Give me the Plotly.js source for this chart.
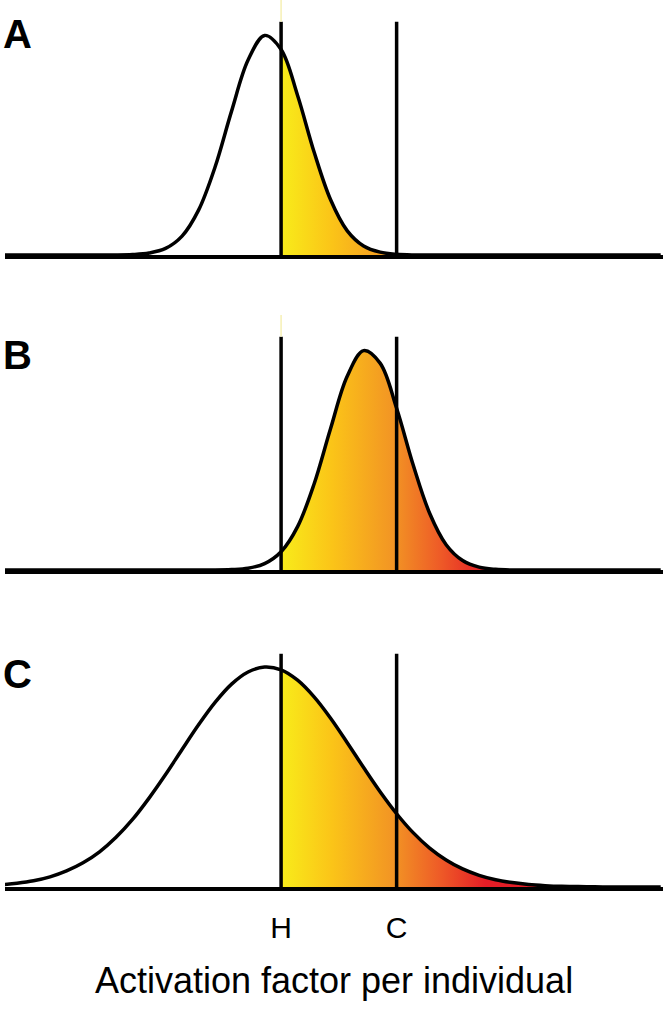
<!DOCTYPE html>
<html>
<head>
<meta charset="utf-8">
<script src="https://cdn.plot.ly/plotly-3.0.1.min.js"></script>
<style>html,body{margin:0;padding:0;background:#fff;}#chart{width:666px;height:1011px;}</style>
</head>
<body>
<div id="chart"></div>
<script>
// ---- data ----
const xs = [-0.5,0,0.5,1,1.5,2,2.5,3,3.5,4,4.5,5,5.5,6,6.5,7,7.5,8,8.5,9,9.5,10,10.5,11,11.5,12,12.5,13,13.5,14,14.5,15,15.5,16,16.5,17,17.5,18,18.5,19,19.5];
const panelA = [0,0,0,0,0,0,0,0,0.002,0.009,0.030,0.086,0.204,0.400,0.654,0.886,0.998,0.934,0.725,0.468,0.251,0.111,0.041,0.013,0.003,0,0,0,0,0,0,0,0,0,0,0,0,0,0,0,0];
const panelB = [0,0,0,0,0,0,0,0,0,0,0,0,0,0,0.002,0.008,0.029,0.083,0.197,0.391,0.643,0.879,0.997,0.940,0.735,0.478,0.258,0.115,0.043,0.013,0.003,0,0,0,0,0,0,0,0,0,0];
const panelC = [0.010,0.017,0.028,0.046,0.073,0.110,0.160,0.226,0.307,0.404,0.511,0.625,0.737,0.839,0.922,0.977,1.000,0.987,0.940,0.864,0.767,0.657,0.543,0.433,0.333,0.247,0.177,0.123,0.082,0.053,0.033,0.020,0.011,0.006,0.003,0.002,0.001,0,0,0,0];
const panelLabels = ['A','B','C'];
const thresholds = [8, 11.5];
const thresholdLabels = ['H','C'];
const xTitle = 'Activation factor per individual';

// ---- styling ----
const FONT = "'Liberation Sans', Arial, Helvetica, sans-serif";
const gradientScale = [[0,'#f8ec1a'],[0.25,'#fbc418'],[0.55,'#f29424'],[0.78,'#ee5a27'],[1,'#e41d26']];
const gradStop = 14.2;
const lineTop = 1.06;
const yMax = 1.159;
const xRange = [-0.364, 19.57];
const domains = [[0.7125,1.0],[0.3574,0.6449],[0.0,0.2875]];
const letterY = [0.9887,0.6268,0.2672];

const series = [panelA, panelB, panelC];
const traces = [];
const shapes = [];
const annotations = [];
const H = thresholds[0];

series.forEach((ys, i) => {
  const xa = i === 0 ? 'x' : 'x' + (i + 1);
  const ya = i === 0 ? 'y' : 'y' + (i + 1);
  const fx = [], fy = [];
  xs.forEach((x, k) => { if (x >= H) { fx.push(x); fy.push(ys[k]); } });
  traces.push({
    x: fx, y: fy, xaxis: xa, yaxis: ya, type: 'scatter', mode: 'lines',
    line: {width: 0, shape: 'spline', smoothing: 1, color: 'rgba(0,0,0,0)'},
    fill: 'tozeroy',
    fillgradient: {type: 'horizontal', colorscale: gradientScale, start: H, stop: gradStop},
    hoverinfo: 'skip', showlegend: false
  });
  traces.push({
    x: xs, y: ys, xaxis: xa, yaxis: ya, type: 'scatter', mode: 'lines',
    line: {width: 3.5, color: '#000', shape: 'spline', smoothing: 1},
    hoverinfo: 'skip', showlegend: false
  });
  thresholds.forEach(t => {
    shapes.push({type: 'line', xref: xa, yref: ya, x0: t, x1: t, y0: 0, y1: lineTop,
      line: {color: '#000', width: 3.5}, layer: 'above'});
  });
  if (i < 2) {
    shapes.push({type: 'line', xref: xa, yref: ya, x0: H, x1: H, y0: lineTop, y1: yMax,
      line: {color: '#f6f0b4', width: 1.5}, layer: 'above'});
  }
  annotations.push({text: '<b>' + panelLabels[i] + '</b>', xref: 'paper', yref: 'paper',
    x: -0.006, y: letterY[i], xanchor: 'left', yanchor: 'top', showarrow: false,
    font: {family: FONT, size: 40, color: '#000'}});
});

const layout = {
  width: 666, height: 1011,
  margin: {l: 5, r: 3, t: 0, b: 124},
  paper_bgcolor: '#fff', plot_bgcolor: '#fff',
  showlegend: false, hovermode: false,
  font: {family: FONT, color: '#000'},
  shapes: shapes, annotations: annotations
};
for (let i = 0; i < 3; i++) {
  const sx = i === 0 ? '' : String(i + 1);
  const isLast = i === 2;
  layout['xaxis' + sx] = {
    anchor: 'y' + sx, range: xRange, showgrid: false, zeroline: false,
    showline: true, linecolor: '#000', linewidth: 4, ticks: '',
    showticklabels: isLast, tickvals: isLast ? thresholds : [], ticktext: isLast ? thresholdLabels : [],
    tickfont: {family: FONT, size: 30, color: '#000'}, ticklabelstandoff: 11,
    fixedrange: true,
    title: isLast ? {text: xTitle, font: {family: FONT, size: 36, color: '#000'}, standoff: 26} : {text: ''}
  };
  layout['yaxis' + sx] = {
    anchor: 'x' + sx, domain: domains[i], range: [0, yMax], showgrid: false, zeroline: false,
    showline: false, showticklabels: false, ticks: '', fixedrange: true
  };
}

Plotly.newPlot('chart', traces, layout, {displayModeBar: false, staticPlot: true});
</script>
</body>
</html>
